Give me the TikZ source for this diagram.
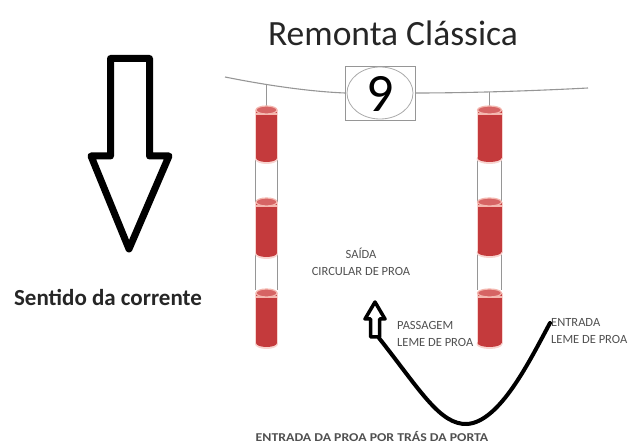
\documentclass[tikz,border=0pt]{standalone}
\usepackage{fontspec}
\setmainfont{Carlito}
\definecolor{cylred}{RGB}{196,58,60}
\definecolor{cyltop}{RGB}{214,100,100}
\definecolor{cylrim}{RGB}{244,184,176}
\definecolor{txtgrey}{RGB}{80,80,80}
\definecolor{wiregrey}{RGB}{150,150,150}
\newcommand\mycyl[4]{% x, half width, top, bottom
  \fill[cylrim!60] (#1-#2-1,#3+5) rectangle (#1+#2+1,#4-3);
  \fill[cylrim!60] (#1,#4-3) ellipse ({#2+1} and 5);
  \fill[cylred] (#1-#2,#3+5) rectangle (#1+#2,#4-4);
  \fill[cylred] (#1,#4-4) ellipse (#2 and 4);
  \draw[cylrim,line width=1.2] (#1-#2,#3+9) -- (#1+#2,#3+9);
  \filldraw[fill=cyltop,draw=cylrim,line width=1.2] (#1,#3+5) ellipse (#2 and 4);
}
\tikzset{
  smalltxt/.style={font=\fontsize{12.5}{17}\selectfont, text=txtgrey, inner sep=0pt},
  poleline/.style={draw=wiregrey, line width=0.9},
}
\begin{document}
\begin{tikzpicture}[x=1pt,y=-1pt]
\useasboundingbox (0,0) rectangle (632,446);
% title
\node[font=\fontsize{35.5}{36}\selectfont, text=black!85] (title) at (393,33) {Remonta Clássica};
% wire
\draw[wiregrey, line width=1.1] (225,77) .. controls (280,88) and (320,92) .. (345,93);
\draw[wiregrey, line width=1.1] (415,93) .. controls (480,93) and (550,90) .. (588,88);
% number box
\node[draw=wiregrey, line width=0.9, minimum width=70, minimum height=54, inner sep=0pt] (box) at (380,93) {};
\draw[wiregrey!80, line width=0.8] (380,93) ellipse (33 and 26);
\node[font=\fontsize{54}{54}\selectfont, inner sep=0pt] (nine) at (380,94) {9};
% hanging lines
\draw[poleline] (266,85) -- (266,108);
\draw[poleline] (489,92) -- (489,108);
% left pole connectors
\draw[poleline] (255.5,160) -- (255.5,290);
\draw[poleline] (277.5,160) -- (277.5,290);
% right pole connectors
\draw[poleline] (477.5,160) -- (477.5,290);
\draw[poleline] (501.5,160) -- (501.5,290);
% cylinders
\mycyl{266.5}{10.5}{105}{162}
\mycyl{266.5}{10.5}{197}{257}
\mycyl{266.5}{10.5}{288}{347}
\mycyl{489.5}{12}{105}{162}
\mycyl{489.5}{12}{197}{256}
\mycyl{489.5}{12}{288}{347}
% big current arrow
\draw[line width=7, line join=round] (110.5,58.5) -- (149.5,58.5) -- (149.5,156) -- (169,156) -- (129,249) -- (91,156) -- (110.5,156) -- cycle;
\node[font=\bfseries\fontsize{23}{24}\selectfont, text=black!85] (sentido) at (108,297) {Sentido da corrente};
% labels
\node[smalltxt, align=center] (saida) at (361,262) {SAÍDA\\CIRCULAR DE PROA};
\node[smalltxt, align=left, anchor=west] (passagem) at (397,334) {PASSAGEM\\LEME DE PROA};
\node[smalltxt, align=left, anchor=west] (entrada) at (551,331) {ENTRADA\\LEME DE PROA};
\node[font=\bfseries\fontsize{12}{12}\selectfont, text=txtgrey, inner sep=0pt] (bottom) at (372,437) {\scalebox{1.15}[1]{ENTRADA DA PROA POR TRÁS DA PORTA}};
% small hollow arrow
\draw[line width=3.5, line join=round] (375,302) -- (385,319) -- (379.5,319) -- (379.5,337) -- (370.5,337) -- (370.5,319) -- (365,319) -- cycle;
\coordinate (arrbase) at (379,338);
\coordinate (curvebottom) at (467,424);
\coordinate (curveend) at (550,323);
\draw[line width=4, line cap=round] (arrbase) .. controls (420,390) and (440,425) .. (curvebottom) .. controls (500,422) and (530,360) .. (curveend);
\end{tikzpicture}
\end{document}
